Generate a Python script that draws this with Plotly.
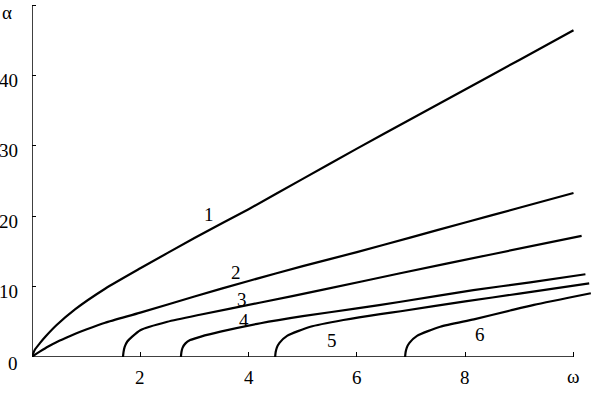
import plotly.graph_objects as go

# ---- data ----
w1 = [0, 0.05, 0.15, 0.25, 0.45, 0.8, 1.35, 2.0, 3.0, 4.0, 5.0, 6.0, 7.0, 8.0, 9.0, 10.0]
a1 = [0, 1.0, 2.0, 2.9, 4.5, 6.8, 9.7, 12.6, 16.9, 21.0, 25.3, 29.6, 33.8, 38.0, 42.2, 46.4]

w2 = [0, 0.05, 0.15, 0.3, 0.45, 0.62, 0.8, 1.0, 1.35, 2.0, 3.0, 4.0, 5.0, 6.0, 7.0, 8.0, 9.0, 10.0]
a2 = [0, 0.3, 0.8, 1.5, 2.1, 2.7, 3.3, 3.9, 4.87, 6.3, 8.6, 10.8, 12.9, 14.9, 17.0, 19.1, 21.2, 23.3]

w3 = [1.68, 1.69, 1.71, 1.76, 1.85, 2.0, 2.5, 3.1, 4.2, 5.4, 6.8, 8.5, 10.15]
a3 = [0, 0.7, 1.4, 2.2, 2.9, 3.8, 5.0, 6.0, 7.7, 9.6, 11.9, 14.6, 17.2]

w4 = [2.75, 2.76, 2.78, 2.83, 2.92, 3.12, 3.48, 4.22, 5.0, 6.0, 6.81, 8.15, 9.2, 10.22]
a4 = [0, 0.7, 1.3, 1.9, 2.4, 2.9, 3.6, 4.8, 5.8, 6.9, 7.85, 9.5, 10.6, 11.75]

w5 = [4.49, 4.50, 4.52, 4.57, 4.71, 5.14, 5.75, 6.43, 6.81, 8.0, 9.0, 10.29]
a5 = [0, 0.7, 1.3, 2.0, 3.0, 4.3, 5.26, 6.1, 6.5, 7.9, 9.0, 10.47]

w6 = [6.89, 6.90, 6.92, 6.97, 7.11, 7.54, 8.16, 8.83, 9.27, 10.32]
a6 = [0, 0.7, 1.3, 2.0, 3.0, 4.3, 5.35, 6.6, 7.4, 9.05]

series = [(w1, a1), (w2, a2), (w3, a3), (w4, a4), (w5, a5), (w6, a6)]
curve_labels = ["1", "2", "3", "4", "5", "6"]

x_tickvals = [2, 4, 6, 8]
y_tickvals = [0, 10, 20, 30, 40]
x_end, y_end = 10, 50
x_axis_name, y_axis_name = "ω", "α"

# ---- layout geometry ----
W, H = 599, 394
L, R, T, B = 32, 4, 3, 37
XPX = 54.15   # px per omega unit
YPX = 7.04    # px per alpha unit
PW, PH = W - L - R, H - T - B
x_range = [0, PW / XPX]
y_range = [0, PH / YPX]


def paper(px, py):
    return (px - L) / PW, (H - B - py) / PH


FONT = "Liberation Serif, Times New Roman, serif"
TF = dict(family=FONT, size=19, color="black")

fig = go.Figure()
for w, a in series:
    fig.add_trace(go.Scatter(x=w, y=a, mode="lines",
                             line=dict(color="black", width=2.2, shape="spline", smoothing=0.6),
                             showlegend=False, hoverinfo="skip"))

# axis lines
fig.add_shape(type="line", x0=0, y0=0, x1=x_end, y1=0, line=dict(color="black", width=1.5))
fig.add_shape(type="line", x0=0, y0=0, x1=0, y1=y_end, line=dict(color="black", width=1.5))

ann = []
label_px = [(209, 214), (236, 272), (242, 299), (244, 320), (332, 340), (480, 334)]
for t, (px, py) in zip(curve_labels, label_px):
    xp, yp = paper(px, py)
    ann.append(dict(x=xp, y=yp, text=t, xanchor="center"))

for v in x_tickvals:
    xp, yp = paper(L + v * XPX, 377.5)
    ann.append(dict(x=xp, y=yp, text=str(v), xanchor="center"))
xp, yp = paper(573.3, 376.5)
ann.append(dict(x=xp, y=yp, text=x_axis_name, xanchor="center"))

for v in y_tickvals:
    ypx = (H - B) - v * YPX + (6 if v == 0 else 5)
    xp, yp = paper(20, ypx)
    ann.append(dict(x=xp, y=yp, text=str(v), xanchor="right"))
xp, yp = paper(7, 13)
ann.append(dict(x=xp, y=yp, text=y_axis_name, xanchor="center"))

for a in ann:
    a.update(xref="paper", yref="paper", yanchor="middle", showarrow=False, font=TF)

fig.update_layout(
    width=W, height=H,
    margin=dict(l=L, r=R, t=T, b=B),
    paper_bgcolor="white", plot_bgcolor="white",
    annotations=ann,
    xaxis=dict(range=x_range, showgrid=False, zeroline=False, showline=False,
               tickvals=x_tickvals + [x_end], ticks="inside", ticklen=5, tickwidth=1,
               tickcolor="black", showticklabels=False, fixedrange=True),
    yaxis=dict(range=y_range, showgrid=False, zeroline=False, showline=False,
               tickvals=[10, 20, 30, 40, 50], ticks="inside", ticklen=4, tickwidth=1,
               tickcolor="black", showticklabels=False, fixedrange=True),
)
fig.write_html("out.html")
